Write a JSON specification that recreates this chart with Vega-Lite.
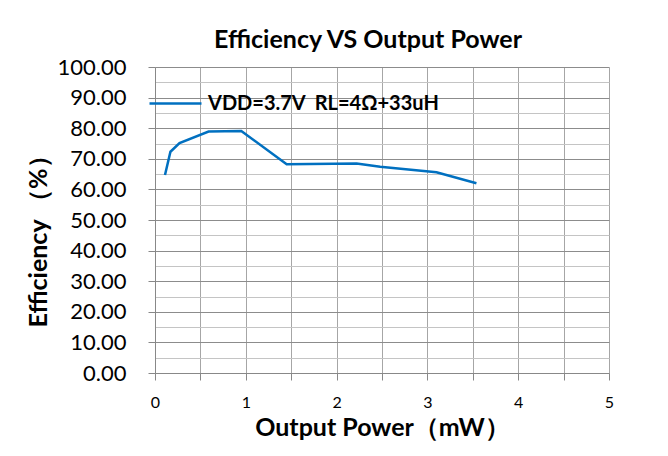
{
  "$schema": "https://vega.github.io/schema/vega-lite/v6.json",
  "width": 454,
  "height": 306,
  "padding": {"left": 155, "top": 67, "right": 59, "bottom": 83},
  "autosize": {"type": "none"},
  "background": "white",
  "config": {"view": {"stroke": null}, "font": "Lato"},
  "title": {"text": "Efficiency VS Output Power", "font": "Lato", "fontSize": 25, "fontWeight": "bold", "color": "#000", "anchor": "middle", "offset": 3, "dx": -14},
  "data": {"values": [
    {"power": 0.11, "eff": 64.7, "series": "VDD=3.7V\u00a0\u00a0RL=4Ω+33uH"},
    {"power": 0.17, "eff": 72.3, "series": "VDD=3.7V\u00a0\u00a0RL=4Ω+33uH"},
    {"power": 0.27, "eff": 75.1, "series": "VDD=3.7V\u00a0\u00a0RL=4Ω+33uH"},
    {"power": 0.59, "eff": 78.9, "series": "VDD=3.7V\u00a0\u00a0RL=4Ω+33uH"},
    {"power": 0.95, "eff": 79.1, "series": "VDD=3.7V\u00a0\u00a0RL=4Ω+33uH"},
    {"power": 1.45, "eff": 68.2, "series": "VDD=3.7V\u00a0\u00a0RL=4Ω+33uH"},
    {"power": 2.22, "eff": 68.5, "series": "VDD=3.7V\u00a0\u00a0RL=4Ω+33uH"},
    {"power": 2.48, "eff": 67.4, "series": "VDD=3.7V\u00a0\u00a0RL=4Ω+33uH"},
    {"power": 3.10, "eff": 65.6, "series": "VDD=3.7V\u00a0\u00a0RL=4Ω+33uH"},
    {"power": 3.54, "eff": 62.0, "series": "VDD=3.7V\u00a0\u00a0RL=4Ω+33uH"}
  ]},
  "mark": {"type": "line", "strokeWidth": 2.5},
  "encoding": {
    "x": {
      "field": "power", "type": "quantitative",
      "scale": {"domain": [0, 5], "nice": false},
      "axis": {
        "values": [0, 0.5, 1, 1.5, 2, 2.5, 3, 3.5, 4, 4.5, 5],
        "labelExpr": "datum.value % 1 === 0 ? datum.value : ''",
        "title": "Output Power（mW）",
        "titleFont": "Lato", "titleFontSize": 25, "titleFontWeight": "bold", "titleColor": "#000",
        "titlePadding": 5,
        "labelFont": "Lato", "labelFontSize": 16, "labelColor": "#000", "labelPadding": 14,
        "labelFlush": false, "labelOverlap": false,
        "tickSize": 7, "tickColor": "#888", "domainColor": "#888",
        "grid": true, "gridColor": "#a6a6a6", "gridWidth": 1
      }
    },
    "y": {
      "field": "eff", "type": "quantitative",
      "scale": {"domain": [0, 100], "nice": false},
      "axis": {
        "values": [0, 5, 10, 15, 20, 25, 30, 35, 40, 45, 50, 55, 60, 65, 70, 75, 80, 85, 90, 95, 100],
        "labelExpr": "datum.value % 10 === 0 ? format(datum.value, '.2f') : ''",
        "title": "Efficiency （%）",
        "titleFont": "Lato", "titleFontSize": 25, "titleFontWeight": "bold", "titleColor": "#000",
        "titleAngle": -90, "titleAlign": "center", "titleBaseline": "middle",
        "titleX": -117, "titleY": 168,
        "labelFont": "Lato", "labelFontSize": 22, "labelColor": "#000", "labelPadding": 22,
        "labelOverlap": false, "labelFlush": false,
        "tickSize": 7, "tickColor": "#888",
        "tickOpacity": {"condition": {"test": "datum.value % 10 === 0", "value": 1}, "value": 0},
        "domainColor": "#888",
        "grid": true,
        "gridColor": {"condition": {"test": "datum.value % 10 === 0", "value": "#8c8c8c"}, "value": "#c4c4c4"},
        "gridWidth": 1
      }
    },
    "color": {
      "field": "series", "type": "nominal",
      "scale": {"range": ["#0070c0"]},
      "legend": {
        "title": null, "orient": "none", "legendX": -7, "legendY": 9,
        "symbolType": "stroke", "symbolSize": 2704, "symbolStrokeWidth": 2.5,
        "labelFont": "Lato", "labelFontSize": 20, "labelFontWeight": "bold", "labelColor": "#000",
        "labelOffset": 5, "padding": 0, "labelLimit": 400
      }
    }
  }
}
